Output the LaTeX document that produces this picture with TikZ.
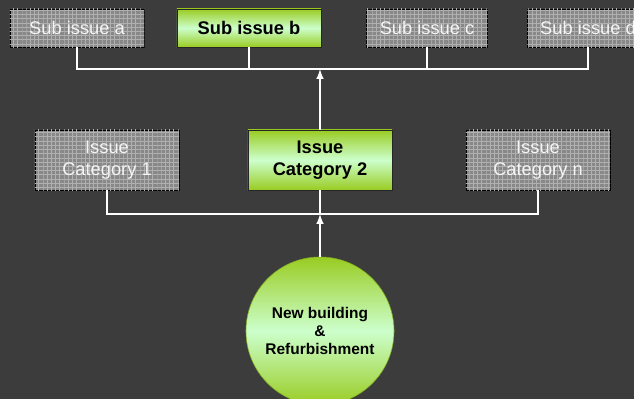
\documentclass[tikz,border=0pt]{standalone}
\usepackage{fontspec}
\setmainfont{Liberation Sans}
\usepackage{tikz}
\usetikzlibrary{shapes,arrows,positioning,patterns}

\definecolor{bgdark}{HTML}{3C3C3C}
\definecolor{leafgreen}{HTML}{99CC22}
\definecolor{palegreen}{HTML}{CCFFCC}
\definecolor{boxgray}{HTML}{888888}
\definecolor{gridgray}{HTML}{B0B0B0}

\begin{document}
\begin{tikzpicture}[x=0.025cm, y=-0.025cm,
    greybox/.style={rectangle, draw=black, fill=boxgray,
        postaction={pattern=horizontal lines, pattern color=gridgray},
        postaction={pattern=vertical lines, pattern color=gridgray},
        text=white!92!gray, font=\fontsize{13}{15.6}\selectfont, align=center, minimum height=0.95cm},
    greenbox/.style={rectangle, draw=black!85, top color=leafgreen, bottom color=leafgreen, middle color=palegreen,
        font=\bfseries\fontsize{13}{15.6}\selectfont, align=center, minimum height=0.95cm},
    link/.style={draw=white, line width=1.4pt},
    up/.style={link, -latex}]
    \path[use as bounding box, fill=bgdark] (0,0) rectangle (634,399);

    \node (suba) [greybox, minimum width=3.35cm] at (77,28) {Sub issue a};
    \node (subb) [greenbox, minimum width=3.6cm] at (249,28) {Sub issue b};
    \node (subc) [greybox, minimum width=3.025cm] at (427,28) {Sub issue c};
    \node (subd) [greybox, minimum width=3.025cm] at (588,28) {Sub issue d};

    \node (cat1) [greybox, minimum width=3.6cm, minimum height=1.5cm] at (107,160) {Issue\\Category 1};
    \node (cat2) [greenbox, minimum width=3.6cm, minimum height=1.5cm] at (320,160) {Issue\\Category 2};
    \node (catn) [greybox, minimum width=3.6cm, minimum height=1.5cm] at (538,160) {Issue\\Category n};

    \node (site) [circle, draw=leafgreen!85!black, top color=leafgreen, bottom color=leafgreen, middle color=palegreen,
        minimum size=3.7cm, align=center, font=\bfseries\fontsize{11}{13}\selectfont] at (320,331) {New building\\\&\\Refurbishment};

    \coordinate (topbus) at (320,69);
    \coordinate (lowbus) at (320,214);

    \draw [link] (suba.south) |- (topbus) -| (subd.south);
    \draw [link] (subb.south) -- (subb.south |- topbus);
    \draw [link] (subc.south) -- (subc.south |- topbus);
    \draw [up] (cat2.north) -- (topbus);

    \draw [link] (cat1.south) |- (lowbus) -| (catn.south);
    \draw [link] (cat2.south) -- (lowbus);
    \draw [up] (site.north) -- (lowbus);
\end{tikzpicture}
\end{document}
